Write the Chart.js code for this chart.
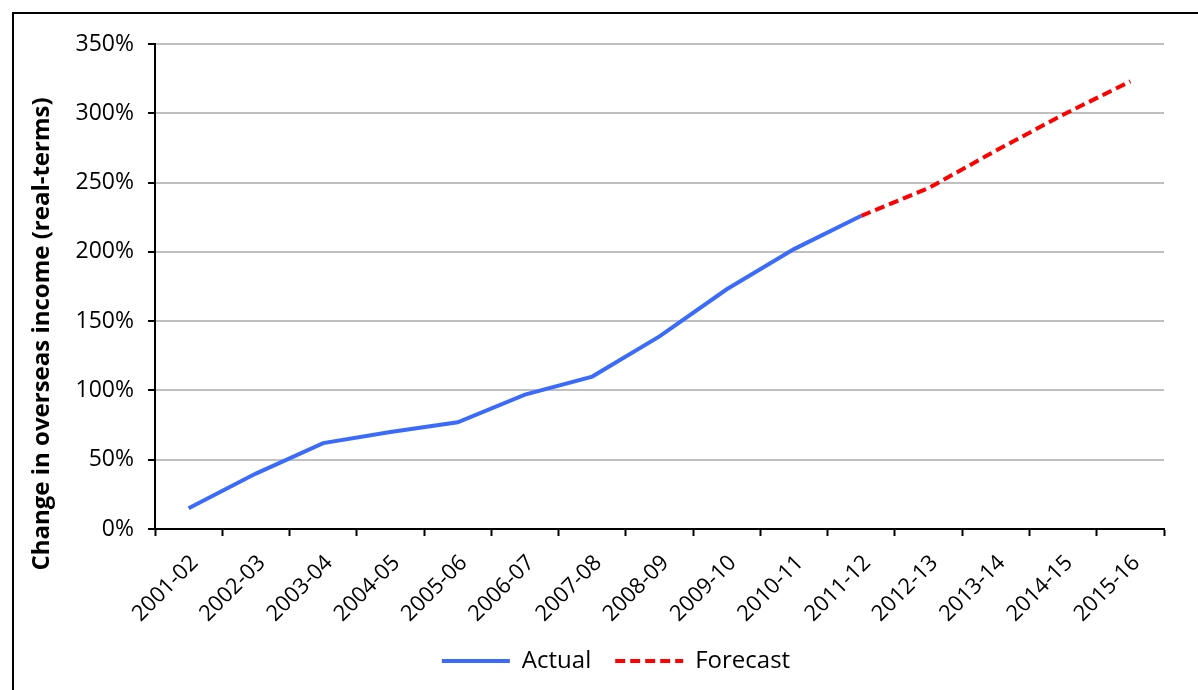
<!DOCTYPE html>
<html>
<head>
<meta charset="utf-8">
<script src="https://cdn.jsdelivr.net/npm/chart.js@4.4.1/dist/chart.umd.min.js"></script>
<style>
  html, body { margin: 0; padding: 0; background: #fff; overflow: hidden; }
  #frame { position: absolute; left: 12px; top: 12px; width: 1400px; height: 900px; border: 2px solid #000; }
  #wrap { position: absolute; left: 0; top: 0; width: 1198px; height: 690px; }
</style>
</head>
<body>
<div id="frame"></div>
<div id="wrap"><canvas id="chart" width="1198" height="690"></canvas></div>
<script>
const years = ['2001-02', '2002-03', '2003-04', '2004-05', '2005-06', '2006-07', '2007-08', '2008-09',
  '2009-10', '2010-11', '2011-12', '2012-13', '2013-14', '2014-15', '2015-16'];
const actual = [15, 40, 62, 70, 77, 97, 110, 139, 173, 202, 226, null, null, null, null];
const forecast = [null, null, null, null, null, null, null, null, null, null, 226, 246, 273, 299, 323];
const yTicks = [0, 50, 100, 150, 200, 250, 300, 350];
const yTitle = 'Change in overseas income (real-terms)';

const FONT = '"Open Sans", "Noto Sans", sans-serif';

// y title sits a bit lower than the plot centre in the original, so draw it ourselves
const yTitlePlugin = {
  id: 'yTitle',
  afterDraw(chart) {
    const ctx = chart.ctx;
    ctx.save();
    ctx.translate(42, 334);
    ctx.rotate(-Math.PI / 2);
    ctx.font = 'bold 24px ' + FONT;
    ctx.fillStyle = '#000';
    ctx.textAlign = 'center';
    ctx.textBaseline = 'middle';
    ctx.fillText(yTitle, 0, 0);
    ctx.restore();
  },
};

new Chart(document.getElementById('chart'), {
  type: 'line',
  data: {
    labels: years,
    datasets: [
      { label: 'Actual', data: actual, borderColor: '#3B6BFA', backgroundColor: '#3B6BFA',
        borderWidth: 4, pointRadius: 0, tension: 0, pointStyle: 'line' },
      { label: 'Forecast', data: forecast, borderColor: '#FF0000', backgroundColor: '#FF0000',
        borderWidth: 4, borderDash: [10, 5], pointRadius: 0, tension: 0, pointStyle: 'line' },
    ],
  },
  plugins: [yTitlePlugin],
  options: {
    responsive: false,
    animation: false,
    layout: { padding: { left: 68, right: 34, top: 44, bottom: 7 } },
    plugins: {
      tooltip: { enabled: false },
      legend: {
        position: 'bottom',
        labels: {
          usePointStyle: true, pointStyleWidth: 68, boxHeight: 4, padding: 24,
          color: '#000', font: { family: FONT, size: 24 },
          generateLabels: chart => Chart.defaults.plugins.legend.labels.generateLabels(chart).map(item => {
            const ds = chart.data.datasets[item.datasetIndex];
            item.lineDash = ds.borderDash || [];
            item.lineWidth = 4;
            item.strokeStyle = ds.borderColor;
            return item;
          }),
        },
      },
    },
    scales: {
      x: {
        offset: true,
        grid: { display: true, offset: true, drawOnChartArea: false, drawTicks: true, tickLength: 7,
          tickColor: '#000', tickWidth: 2 },
        border: { display: true, color: '#000', width: 2 },
        ticks: { color: '#000', minRotation: 45, maxRotation: 45, autoSkip: false, padding: 14, labelOffset: 6,
          font: { family: FONT, size: 22 } },
        afterFit: s => { s.height = 96; },
      },
      y: {
        min: 0, max: 350,
        afterBuildTicks: s => { s.ticks = yTicks.map(v => ({ value: v })); },
        grid: { color: '#C0C0C0', lineWidth: 2, drawTicks: true, tickLength: 7, tickColor: '#000', tickWidth: 2 },
        border: { display: true, color: '#000', width: 2 },
        ticks: { color: '#000', padding: 14, font: { family: FONT, size: 23 }, callback: v => v + '%' },
        afterFit: s => { s.width = 87; },
      },
    },
  },
});
</script>
</body>
</html>
